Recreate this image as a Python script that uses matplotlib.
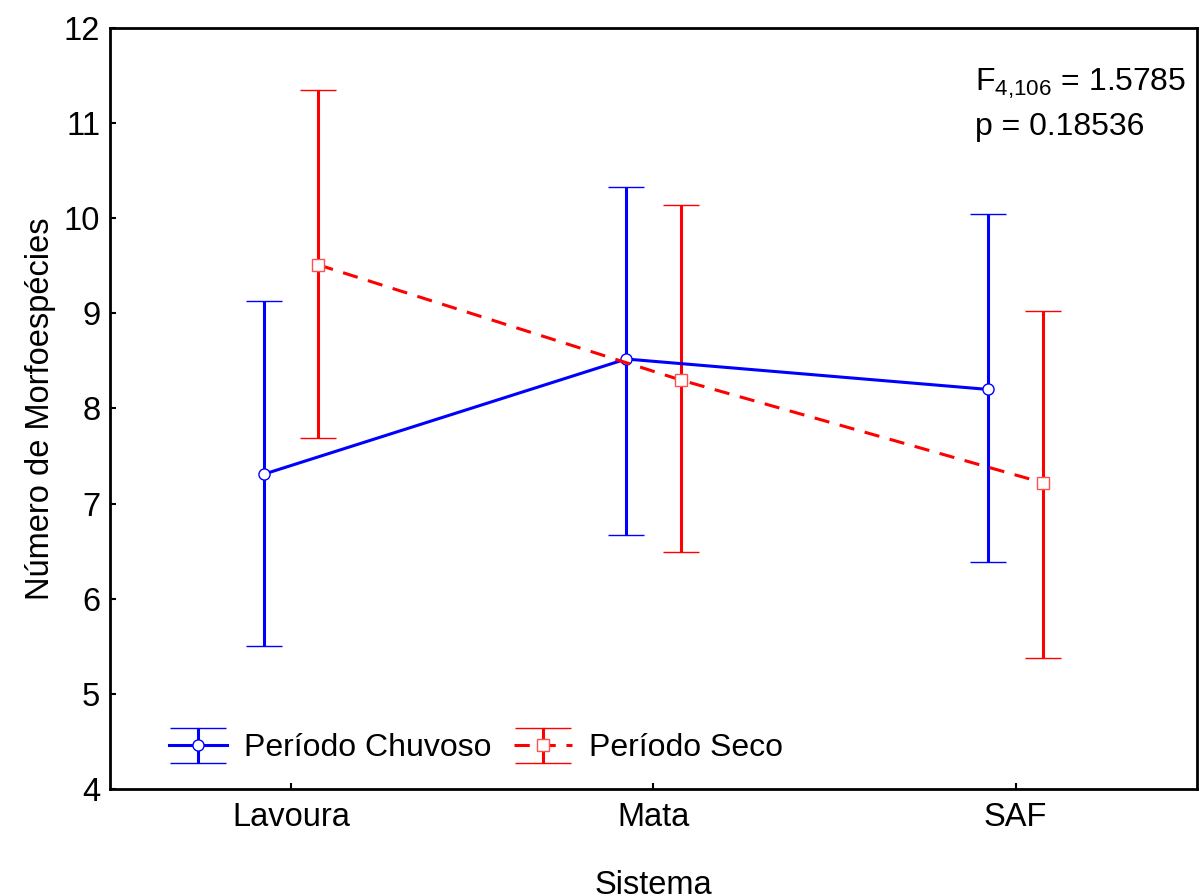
import numpy as np
import matplotlib
matplotlib.use("Agg")
import matplotlib.pyplot as plt
from matplotlib.legend_handler import HandlerErrorbar

plt.rcParams['font.family'] = ['Liberation Sans', 'DejaVu Sans']
plt.rcParams['mathtext.fontset'] = 'custom'
plt.rcParams['mathtext.rm'] = 'Liberation Sans'
plt.rcParams['mathtext.it'] = 'Liberation Sans'

# dados
sistemas = ['Lavoura', 'Mata', 'SAF']
chuvoso_media = [7.31, 8.52, 8.20]
chuvoso_inf = [5.50, 6.67, 6.39]
chuvoso_sup = [9.13, 10.33, 10.04]
seco_media = [9.51, 8.30, 7.22]
seco_inf = [7.69, 6.49, 5.38]
seco_sup = [11.35, 10.14, 9.02]

x = np.arange(len(sistemas))
desloc = 0.075

fig = plt.figure(figsize=(12.04, 8.96), dpi=100)
ax = fig.add_axes([0.0914, 0.1194, 0.9026, 0.8494])

m1 = np.array(chuvoso_media)
m2 = np.array(seco_media)
err1 = [m1 - np.array(chuvoso_inf), np.array(chuvoso_sup) - m1]
err2 = [m2 - np.array(seco_inf), np.array(seco_sup) - m2]

ax.errorbar(x - desloc, m1, yerr=err1, fmt='-o', color='#0000ff', lw=2.2,
            elinewidth=2.2, capsize=13, capthick=2.6, ms=8, mfc='white',
            mec='#0000ff', mew=1, label='Período Chuvoso')
ax.errorbar(x + desloc, m2, yerr=err2, fmt='--s', color='#ff0000', lw=2.2,
            elinewidth=2.2, capsize=13, capthick=2.6, ms=8, mfc='white',
            mec='#ff5050', mew=1, dashes=(5, 3.5), label='Período Seco')

ax.set_xlim(-0.5, 2.5)
ax.set_ylim(4, 12)
ax.set_xticks(x)
ax.set_xticklabels(sistemas)
ax.set_yticks(np.arange(4, 13, 1))
ax.tick_params(direction='in', length=4, width=1.5, labelsize=23.5)
ax.tick_params(axis='y', pad=7)
ax.tick_params(axis='x', pad=9)
for s in ax.spines.values():
    s.set_linewidth(2)

ax.set_xlabel('Sistema', fontsize=23.5, labelpad=27)
ax.set_ylabel('Número de Morfoespécies', fontsize=23.5, labelpad=6)

ax.text(0.796, 0.926, r'$\mathregular{F_{4{,}106}}$ = 1.5785', transform=ax.transAxes,
        fontsize=23, va='center', ha='left')
ax.text(0.796, 0.870, 'p = 0.18536', transform=ax.transAxes,
        fontsize=23, va='center', ha='left')


# tampas largas na legenda
def tampa_larga(leg_h, orig_h):
    leg_h.update_from(orig_h)
    if hasattr(orig_h, 'get_marker') and orig_h.get_marker() == '_':
        leg_h.set_markersize(41)


h = HandlerErrorbar(yerr_size=0.55, update_func=tampa_larga)
handles, labels = ax.get_legend_handles_labels()
ax.legend(handles, labels, loc='lower left', bbox_to_anchor=(0.028, -0.004),
          frameon=False, fontsize=23, ncol=2, handlelength=1.8,
          handletextpad=0.55, columnspacing=0.7,
          handler_map={type(handles[0]): h})

fig.savefig('out.png', dpi=100)
